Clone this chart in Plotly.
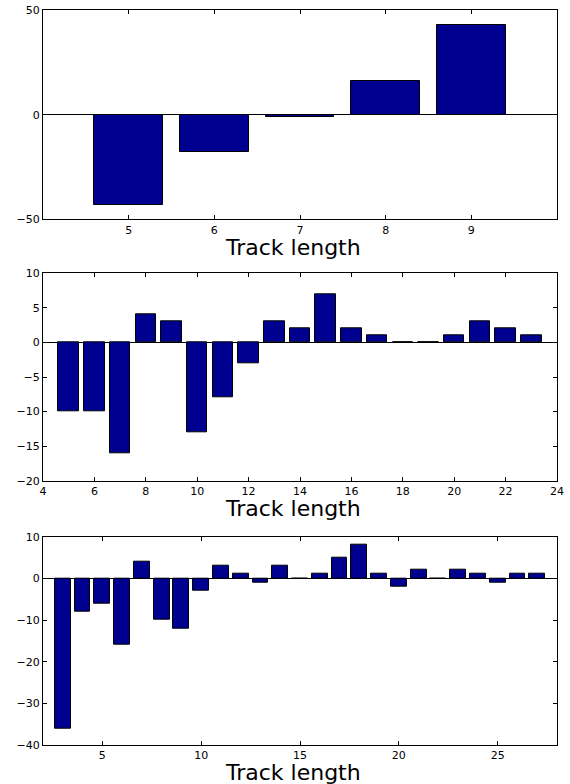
import plotly.graph_objects as go

# Panel 1
x1 = [5, 6, 7, 8, 9]
y1 = [-43, -18, -1, 16, 43]
# Panel 2
x2 = list(range(5, 24))
y2 = [-10, -10, -16, 4, 3, -13, -8, -3, 3, 2, 7, 2, 1, 0, 0, 1, 3, 2, 1]
# Panel 3
x3 = list(range(3, 28))
y3 = [-36, -8, -6, -16, 4, -10, -12, -3, 3, 1, -1, 3, 0, 1, 5, 8, 1, -2, 2, 0, 2, 1, -1, 1, 1]

xlabel = "Track length"

W, H = 570, 784
L, R, T, B = 43, 13, 10, 39
PH = H - T - B  # 735
BOTTOM_SCREEN = H - B

def py(pix):
    return (BOTTOM_SCREEN - pix) / PH

BAR = "#000090"
FONT = "DejaVu Sans"

fig = go.Figure()
for i, (xs, ys) in enumerate([(x1, y1), (x2, y2), (x3, y3)], start=1):
    fig.add_trace(go.Bar(
        x=xs, y=ys, width=0.8,
        marker=dict(color=BAR, line=dict(color="black", width=1)),
        xaxis="x" if i == 1 else f"x{i}",
        yaxis="y" if i == 1 else f"y{i}",
        showlegend=False,
    ))

common = dict(
    showline=True, linecolor="black", linewidth=1, mirror="ticks",
    ticks="inside", ticklen=4, tickcolor="black", showgrid=False,
    automargin=False, ticklabeloverflow="allow",
    tickfont=dict(family=FONT, size=11, color="black"),
)

doms = [(py(219.3), 1.0), (py(480.7), py(273.3)), (0.0, py(536.7))]
xr = [[4, 10], [4, 24], [2, 28]]
xt = [dict(tickvals=[5, 6, 7, 8, 9]), dict(tickvals=list(range(4, 25, 2))), dict(tickvals=[5, 10, 15, 20, 25])]
yr = [[-50, 50], [-20, 10], [-40, 10]]
yt = [[-50, 0, 50], [-20, -15, -10, -5, 0, 5, 10], [-40, -30, -20, -10, 0, 10]]

layout = dict(
    width=W, height=H,
    margin=dict(l=L, r=R, t=T, b=B),
    paper_bgcolor="white", plot_bgcolor="white",
    bargap=0, showlegend=False,
)
for i in range(3):
    xn = "xaxis" if i == 0 else f"xaxis{i+1}"
    yn = "yaxis" if i == 0 else f"yaxis{i+1}"
    xa = dict(common, range=xr[i], domain=[0, 1], anchor="y" if i == 0 else f"y{i+1}",
              zeroline=False, **xt[i])
    ya = dict(common, range=yr[i], domain=list(doms[i]), anchor="x" if i == 0 else f"x{i+1}",
              tickvals=yt[i], zeroline=True, zerolinecolor="black", zerolinewidth=1)
    layout[xn] = xa
    layout[yn] = ya

cap_tops = [237.5, 499, 763]
annotations = []
for c in cap_tops:
    annotations.append(dict(
        text=xlabel, xref="paper", yref="paper", x=(293 - 42.7) / 514, y=py(c - 5),
        xanchor="center", yanchor="top", showarrow=False,
        font=dict(family=FONT, size=22, color="black"),
    ))
layout["annotations"] = annotations

fig.update_layout(**layout)
fig.write_html("out.html", config={"displayModeBar": False},
               post_script="document.body.style.margin='0';")
